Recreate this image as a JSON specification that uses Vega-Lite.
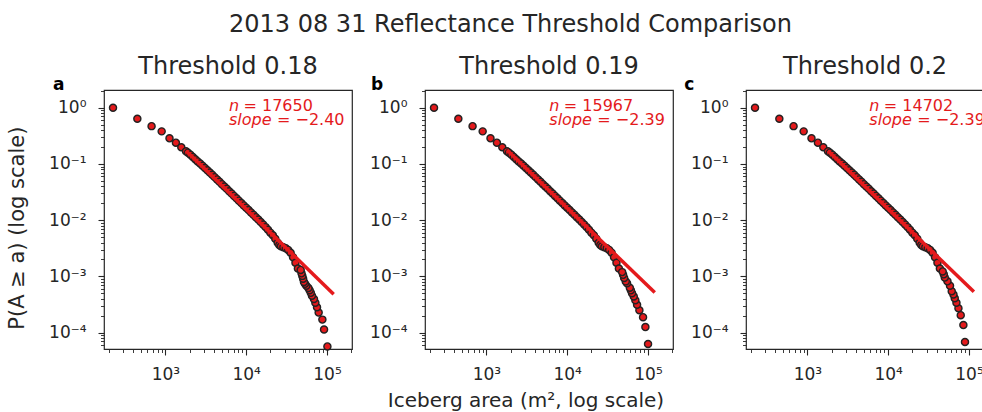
{
"$schema": "https://vega.github.io/schema/vega-lite/v6.json",
"background": "white",
"padding": {"left": 6, "top": 12, "right": 0, "bottom": 0},
"title": {"text": "2013 08 31 Reflectance Threshold Comparison", "fontSize": 24, "fontWeight": "normal", "color": "#262626", "anchor": "middle", "dx": 15, "offset": -1.5, "baseline": "alphabetic"},
"config": {
  "font": "DejaVu Sans",
  "view": {"stroke": "#262626", "strokeWidth": 1.2},
  "title": {"font": "DejaVu Sans", "fontSize": 24, "fontWeight": "normal", "color": "#262626", "baseline": "alphabetic", "offset": -3},
  "axis": {"labelFont": "DejaVu Sans", "labelFontSize": 17, "labelColor": "#262626", "tickColor": "#262626", "domain": false, "grid": false, "titleFont": "DejaVu Sans", "titleFontSize": 20, "titleFontWeight": "normal", "titleColor": "#262626"}
},
"bounds": "flush",
"spacing": 73,
"datasets": {
  "pts": [
    {"t":"a","area":225,"p":1},{"t":"a","area":450,"p":0.637},{"t":"a","area":675,"p":0.471},{"t":"a","area":900,"p":0.38},{"t":"a","area":1125,"p":0.286},{"t":"a","area":1350,"p":0.239},{"t":"a","area":1575,"p":0.198},
    {"t":"a","area":1800,"p":0.168},{"t":"a","area":1905,"p":0.1585},{"t":"a","area":2042,"p":0.1452},{"t":"a","area":2188,"p":0.1327},{"t":"a","area":2344,"p":0.1213},{"t":"a","area":2512,"p":0.1109},{"t":"a","area":2692,"p":0.1016},{"t":"a","area":2884,"p":0.0929},{"t":"a","area":3090,"p":0.0847},{"t":"a","area":3311,"p":0.0773},{"t":"a","area":3548,"p":0.0705},{"t":"a","area":3802,"p":0.0641},{"t":"a","area":4074,"p":0.0583},{"t":"a","area":4365,"p":0.0531},{"t":"a","area":4677,"p":0.0482},{"t":"a","area":5012,"p":0.04375},{"t":"a","area":5370,"p":0.0397},{"t":"a","area":5754,"p":0.03606},{"t":"a","area":6166,"p":0.03273},{"t":"a","area":6607,"p":0.02972},{"t":"a","area":7079,"p":0.02698},{"t":"a","area":7586,"p":0.02449},{"t":"a","area":8128,"p":0.02223},{"t":"a","area":8710,"p":0.02018},{"t":"a","area":9333,"p":0.01832},{"t":"a","area":10000,"p":0.01663},{"t":"a","area":10715,"p":0.0151},{"t":"a","area":11482,"p":0.01371},{"t":"a","area":12303,"p":0.01245},{"t":"a","area":13183,"p":0.0113},{"t":"a","area":14125,"p":0.01023},{"t":"a","area":15136,"p":0.00925},{"t":"a","area":16218,"p":0.00836},{"t":"a","area":17378,"p":0.00752},{"t":"a","area":18621,"p":0.00673},{"t":"a","area":19953,"p":0.006},{"t":"a","area":21380,"p":0.00537},{"t":"a","area":22909,"p":0.00468},{"t":"a","area":24547,"p":0.00398},{"t":"a","area":25704,"p":0.00363},{"t":"a","area":26915,"p":0.00343},{"t":"a","area":28840,"p":0.00331},{"t":"a","area":30903,"p":0.00316},{"t":"a","area":33113,"p":0.00295},{"t":"a","area":35481,"p":0.00263},{"t":"a","area":38019,"p":0.00219},{"t":"a","area":40738,"p":0.00174},{"t":"a","area":43652,"p":0.00138},
    {"t":"a","area":101200,"p":5.666e-5},{"t":"a","area":92000,"p":1.133e-4},{"t":"a","area":87700,"p":1.7e-4},{"t":"a","area":78900,"p":2.266e-4},{"t":"a","area":75300,"p":2.833e-4},{"t":"a","area":71800,"p":3.399e-4},{"t":"a","area":69000,"p":3.966e-4},{"t":"a","area":65200,"p":4.533e-4},{"t":"a","area":63100,"p":5.099e-4},{"t":"a","area":61000,"p":5.666e-4},{"t":"a","area":58900,"p":6.232e-4},{"t":"a","area":55600,"p":6.799e-4},{"t":"a","area":53500,"p":7.365e-4},{"t":"a","area":51900,"p":7.932e-4},{"t":"a","area":50700,"p":9.065e-4},{"t":"a","area":49550,"p":1.02e-3},{"t":"a","area":48400,"p":1.133e-3},{"t":"a","area":47300,"p":1.303e-3},
    {"t":"b","area":225,"p":1},{"t":"b","area":450,"p":0.637},{"t":"b","area":675,"p":0.471},{"t":"b","area":900,"p":0.38},{"t":"b","area":1125,"p":0.286},{"t":"b","area":1350,"p":0.239},{"t":"b","area":1575,"p":0.198},
    {"t":"b","area":1800,"p":0.168},{"t":"b","area":1905,"p":0.1585},{"t":"b","area":2042,"p":0.1452},{"t":"b","area":2188,"p":0.1327},{"t":"b","area":2344,"p":0.1213},{"t":"b","area":2512,"p":0.1109},{"t":"b","area":2692,"p":0.1016},{"t":"b","area":2884,"p":0.0929},{"t":"b","area":3090,"p":0.0847},{"t":"b","area":3311,"p":0.0773},{"t":"b","area":3548,"p":0.0705},{"t":"b","area":3802,"p":0.0641},{"t":"b","area":4074,"p":0.0583},{"t":"b","area":4365,"p":0.0531},{"t":"b","area":4677,"p":0.0482},{"t":"b","area":5012,"p":0.04375},{"t":"b","area":5370,"p":0.0397},{"t":"b","area":5754,"p":0.03606},{"t":"b","area":6166,"p":0.03273},{"t":"b","area":6607,"p":0.02972},{"t":"b","area":7079,"p":0.02698},{"t":"b","area":7586,"p":0.02449},{"t":"b","area":8128,"p":0.02223},{"t":"b","area":8710,"p":0.02018},{"t":"b","area":9333,"p":0.01832},{"t":"b","area":10000,"p":0.01663},{"t":"b","area":10715,"p":0.0151},{"t":"b","area":11482,"p":0.01371},{"t":"b","area":12303,"p":0.01245},{"t":"b","area":13183,"p":0.0113},{"t":"b","area":14125,"p":0.01023},{"t":"b","area":15136,"p":0.00925},{"t":"b","area":16218,"p":0.00836},{"t":"b","area":17378,"p":0.00752},{"t":"b","area":18621,"p":0.00673},{"t":"b","area":19953,"p":0.006},{"t":"b","area":21380,"p":0.00537},{"t":"b","area":22909,"p":0.00468},{"t":"b","area":24547,"p":0.00398},{"t":"b","area":25704,"p":0.00363},{"t":"b","area":26915,"p":0.00343},{"t":"b","area":28840,"p":0.00331},{"t":"b","area":30903,"p":0.00316},{"t":"b","area":33113,"p":0.00295},{"t":"b","area":35481,"p":0.00263},{"t":"b","area":38019,"p":0.00219},{"t":"b","area":40738,"p":0.00174},{"t":"b","area":43652,"p":0.00138},
    {"t":"b","area":100200,"p":6.263e-5},{"t":"b","area":92900,"p":1.2526e-4},{"t":"b","area":86900,"p":1.879e-4},{"t":"b","area":78300,"p":2.505e-4},{"t":"b","area":73300,"p":3.131e-4},{"t":"b","area":69800,"p":3.758e-4},{"t":"b","area":66700,"p":4.384e-4},{"t":"b","area":63500,"p":5.01e-4},{"t":"b","area":61400,"p":5.637e-4},{"t":"b","area":59600,"p":6.263e-4},{"t":"b","area":55100,"p":7.515e-4},{"t":"b","area":53100,"p":8.142e-4},{"t":"b","area":50700,"p":9.394e-4},{"t":"b","area":49200,"p":1.0647e-3},{"t":"b","area":47900,"p":1.19e-3},
    {"t":"c","area":225,"p":1},{"t":"c","area":450,"p":0.637},{"t":"c","area":675,"p":0.471},{"t":"c","area":900,"p":0.38},{"t":"c","area":1125,"p":0.286},{"t":"c","area":1350,"p":0.239},{"t":"c","area":1575,"p":0.198},
    {"t":"c","area":1800,"p":0.168},{"t":"c","area":1905,"p":0.1585},{"t":"c","area":2042,"p":0.1452},{"t":"c","area":2188,"p":0.1327},{"t":"c","area":2344,"p":0.1213},{"t":"c","area":2512,"p":0.1109},{"t":"c","area":2692,"p":0.1016},{"t":"c","area":2884,"p":0.0929},{"t":"c","area":3090,"p":0.0847},{"t":"c","area":3311,"p":0.0773},{"t":"c","area":3548,"p":0.0705},{"t":"c","area":3802,"p":0.0641},{"t":"c","area":4074,"p":0.0583},{"t":"c","area":4365,"p":0.0531},{"t":"c","area":4677,"p":0.0482},{"t":"c","area":5012,"p":0.04375},{"t":"c","area":5370,"p":0.0397},{"t":"c","area":5754,"p":0.03606},{"t":"c","area":6166,"p":0.03273},{"t":"c","area":6607,"p":0.02972},{"t":"c","area":7079,"p":0.02698},{"t":"c","area":7586,"p":0.02449},{"t":"c","area":8128,"p":0.02223},{"t":"c","area":8710,"p":0.02018},{"t":"c","area":9333,"p":0.01832},{"t":"c","area":10000,"p":0.01663},{"t":"c","area":10715,"p":0.0151},{"t":"c","area":11482,"p":0.01371},{"t":"c","area":12303,"p":0.01245},{"t":"c","area":13183,"p":0.0113},{"t":"c","area":14125,"p":0.01023},{"t":"c","area":15136,"p":0.00925},{"t":"c","area":16218,"p":0.00836},{"t":"c","area":17378,"p":0.00752},{"t":"c","area":18621,"p":0.00673},{"t":"c","area":19953,"p":0.006},{"t":"c","area":21380,"p":0.00537},{"t":"c","area":22909,"p":0.00468},{"t":"c","area":24547,"p":0.00398},{"t":"c","area":25704,"p":0.00363},{"t":"c","area":26915,"p":0.00343},{"t":"c","area":28840,"p":0.00331},{"t":"c","area":30903,"p":0.00316},{"t":"c","area":33113,"p":0.00295},{"t":"c","area":35481,"p":0.00263},{"t":"c","area":38019,"p":0.00219},{"t":"c","area":40738,"p":0.00174},{"t":"c","area":43652,"p":0.00138},
    {"t":"c","area":89300,"p":6.802e-5},{"t":"c","area":85300,"p":1.3604e-4},{"t":"c","area":79100,"p":2.0406e-4},{"t":"c","area":74100,"p":2.7207e-4},{"t":"c","area":70000,"p":3.4009e-4},{"t":"c","area":66700,"p":4.0811e-4},{"t":"c","area":64300,"p":4.7613e-4},{"t":"c","area":61200,"p":5.4414e-4},{"t":"c","area":58300,"p":6.8018e-4},{"t":"c","area":54200,"p":8.1622e-4},{"t":"c","area":50200,"p":9.5225e-4},{"t":"c","area":48800,"p":1.0883e-3},{"t":"c","area":47300,"p":1.2243e-3}
  ],
  "fit": [
    {"t":"a","area":1800,"p":0.172},{"t":"a","area":121000,"p":4.82e-4},
    {"t":"b","area":1800,"p":0.178},{"t":"b","area":121300,"p":5.15e-4},
    {"t":"c","area":1800,"p":0.1714},{"t":"c","area":115100,"p":5.3e-4}
  ],
  "ann": [
    {"t":"a","letter":"a","nv":"= 17650","sv":"= −2.40","ytitle":"P(A ≥ a) (log scale)"},
    {"t":"b","letter":"b","nv":"= 15967","sv":"= −2.39","ytitle":""},
    {"t":"c","letter":"c","nv":"= 14702","sv":"= −2.39","ytitle":""}
  ]
},
"hconcat": [
  {
    "width": 248, "height": 259,
    "title": {"text": "Threshold 0.18"},
    "layer": [
      {"data": {"name": "pts"}, "transform": [{"filter": "datum.t == 'a'"}],
       "mark": {"type": "circle", "size": 50, "fill": "#e41a1c", "stroke": "#222222", "strokeWidth": 1.4, "opacity": 1},
       "encoding": {
         "x": {"field": "area", "type": "quantitative", "scale": {"type": "log", "domain": [174, 204000], "nice": false},
               "axis": {"orient": "bottom", "values": [1000, 10000, 100000], "labelExpr": "datum.value == 1000 ? '10³' : datum.value == 10000 ? '10⁴' : '10⁵'", "tickSize": 6, "tickWidth": 1.1, "labelPadding": 11, "title": null}},
         "y": {"field": "p", "type": "quantitative", "scale": {"type": "log", "domain": [5.1e-5, 2.07], "nice": false},
               "axis": {"orient": "left", "values": [0.0001, 0.001, 0.01, 0.1, 1], "labelExpr": "datum.value >= 0.5 ? '10⁰' : datum.value >= 0.05 ? '10⁻¹' : datum.value >= 0.005 ? '10⁻²' : datum.value >= 0.0005 ? '10⁻³' : '10⁻⁴'", "labelAlign": "right", "tickSize": 6, "tickWidth": 1.1, "labelPadding": 12, "title": null}}
       }},
      {"data": {"name": "fit"}, "transform": [{"filter": "datum.t == 'a'"}],
       "mark": {"type": "line", "color": "#e41a1c", "strokeWidth": 3.5},
       "encoding": {
         "x": {"field": "area", "type": "quantitative", "scale": {"type": "log", "domain": [174, 204000], "nice": false},
               "axis": {"orient": "bottom", "values": [200, 300, 400, 500, 600, 700, 800, 900, 2000, 3000, 4000, 5000, 6000, 7000, 8000, 9000, 20000, 30000, 40000, 50000, 60000, 70000, 80000, 90000, 200000], "labels": false, "tickSize": 3.5, "tickWidth": 0.9, "title": null}},
         "y": {"field": "p", "type": "quantitative", "scale": {"type": "log", "domain": [5.1e-5, 2.07], "nice": false},
               "axis": {"orient": "left", "values": [0.00006, 0.00007, 0.00008, 0.00009, 0.0002, 0.0003, 0.0004, 0.0005, 0.0006, 0.0007, 0.0008, 0.0009, 0.002, 0.003, 0.004, 0.005, 0.006, 0.007, 0.008, 0.009, 0.02, 0.03, 0.04, 0.05, 0.06, 0.07, 0.08, 0.09, 0.2, 0.3, 0.4, 0.5, 0.6, 0.7, 0.8, 0.9, 2], "labels": false, "tickSize": 3.5, "tickWidth": 0.9, "title": null}}
       }},
      {"data": {"name": "ann"}, "transform": [{"filter": "datum.t == 'a'"}],
       "mark": {"type": "text", "fontSize": 21, "angle": 270, "align": "center", "baseline": "middle", "color": "#262626"},
       "encoding": {"x": {"datum": 15.0, "type": "quantitative", "axis": null}, "y": {"datum": 0.0072, "type": "quantitative", "axis": null}, "text": {"field": "ytitle", "type": "nominal"}}},
      {"data": {"name": "ann"}, "transform": [{"filter": "datum.t == 'a'"}],
       "mark": {"type": "text", "fontSize": 17, "fontWeight": "bold", "align": "left", "baseline": "alphabetic", "color": "#000000"},
       "encoding": {"x": {"datum": 40.7, "type": "quantitative", "axis": null}, "y": {"datum": 2.07, "type": "quantitative", "axis": null}, "text": {"field": "letter", "type": "nominal"}}},
      {"data": {"name": "ann"}, "transform": [{"filter": "datum.t == 'a'"}],
       "mark": {"type": "text", "text": "n", "fontSize": 16, "fontStyle": "italic", "align": "left", "baseline": "alphabetic", "color": "#e41a1c"},
       "encoding": {"x": {"datum": 6130, "type": "quantitative", "axis": null}, "y": {"datum": 0.86, "type": "quantitative", "axis": null}}},
      {"data": {"name": "ann"}, "transform": [{"filter": "datum.t == 'a'"}],
       "mark": {"type": "text", "dx": 14.5, "fontSize": 16, "align": "left", "baseline": "alphabetic", "color": "#e41a1c"},
       "encoding": {"x": {"datum": 6130, "type": "quantitative", "axis": null}, "y": {"datum": 0.86, "type": "quantitative", "axis": null}, "text": {"field": "nv", "type": "nominal"}}},
      {"data": {"name": "ann"}, "transform": [{"filter": "datum.t == 'a'"}],
       "mark": {"type": "text", "text": "slope", "fontSize": 16, "fontStyle": "italic", "align": "left", "baseline": "alphabetic", "color": "#e41a1c"},
       "encoding": {"x": {"datum": 6130, "type": "quantitative", "axis": null}, "y": {"datum": 0.5, "type": "quantitative", "axis": null}}},
      {"data": {"name": "ann"}, "transform": [{"filter": "datum.t == 'a'"}],
       "mark": {"type": "text", "dx": 48, "fontSize": 16, "align": "left", "baseline": "alphabetic", "color": "#e41a1c"},
       "encoding": {"x": {"datum": 6130, "type": "quantitative", "axis": null}, "y": {"datum": 0.5, "type": "quantitative", "axis": null}, "text": {"field": "sv", "type": "nominal"}}}
    ],
    "resolve": {"axis": {"x": "independent", "y": "independent"}}
  },
  {
    "width": 248, "height": 259,
    "title": {"text": "Threshold 0.19"},
    "layer": [
      {"data": {"name": "pts"}, "transform": [{"filter": "datum.t == 'b'"}],
       "mark": {"type": "circle", "size": 50, "fill": "#e41a1c", "stroke": "#222222", "strokeWidth": 1.4, "opacity": 1},
       "encoding": {
         "x": {"field": "area", "type": "quantitative", "scale": {"type": "log", "domain": [174, 204000], "nice": false},
               "axis": {"orient": "bottom", "values": [1000, 10000, 100000], "labelExpr": "datum.value == 1000 ? '10³' : datum.value == 10000 ? '10⁴' : '10⁵'", "tickSize": 6, "tickWidth": 1.1, "labelPadding": 11, "title": "Iceberg area (m², log scale)", "titleX": 100.5, "titlePadding": 8}},
         "y": {"field": "p", "type": "quantitative", "scale": {"type": "log", "domain": [5.1e-5, 2.07], "nice": false},
               "axis": {"orient": "left", "values": [0.0001, 0.001, 0.01, 0.1, 1], "labelExpr": "datum.value >= 0.5 ? '10⁰' : datum.value >= 0.05 ? '10⁻¹' : datum.value >= 0.005 ? '10⁻²' : datum.value >= 0.0005 ? '10⁻³' : '10⁻⁴'", "labelAlign": "right", "tickSize": 6, "tickWidth": 1.1, "labelPadding": 12, "title": null}}
       }},
      {"data": {"name": "fit"}, "transform": [{"filter": "datum.t == 'b'"}],
       "mark": {"type": "line", "color": "#e41a1c", "strokeWidth": 3.5},
       "encoding": {
         "x": {"field": "area", "type": "quantitative", "scale": {"type": "log", "domain": [174, 204000], "nice": false},
               "axis": {"orient": "bottom", "values": [200, 300, 400, 500, 600, 700, 800, 900, 2000, 3000, 4000, 5000, 6000, 7000, 8000, 9000, 20000, 30000, 40000, 50000, 60000, 70000, 80000, 90000, 200000], "labels": false, "tickSize": 3.5, "tickWidth": 0.9, "title": null}},
         "y": {"field": "p", "type": "quantitative", "scale": {"type": "log", "domain": [5.1e-5, 2.07], "nice": false},
               "axis": {"orient": "left", "values": [0.00006, 0.00007, 0.00008, 0.00009, 0.0002, 0.0003, 0.0004, 0.0005, 0.0006, 0.0007, 0.0008, 0.0009, 0.002, 0.003, 0.004, 0.005, 0.006, 0.007, 0.008, 0.009, 0.02, 0.03, 0.04, 0.05, 0.06, 0.07, 0.08, 0.09, 0.2, 0.3, 0.4, 0.5, 0.6, 0.7, 0.8, 0.9, 2], "labels": false, "tickSize": 3.5, "tickWidth": 0.9, "title": null}}
       }},
      {"data": {"name": "ann"}, "transform": [{"filter": "datum.t == 'b'"}],
       "mark": {"type": "text", "fontSize": 17, "fontWeight": "bold", "align": "left", "baseline": "alphabetic", "color": "#000000"},
       "encoding": {"x": {"datum": 37.4, "type": "quantitative", "axis": null}, "y": {"datum": 2.07, "type": "quantitative", "axis": null}, "text": {"field": "letter", "type": "nominal"}}},
      {"data": {"name": "ann"}, "transform": [{"filter": "datum.t == 'b'"}],
       "mark": {"type": "text", "text": "n", "fontSize": 16, "fontStyle": "italic", "align": "left", "baseline": "alphabetic", "color": "#e41a1c"},
       "encoding": {"x": {"datum": 6010, "type": "quantitative", "axis": null}, "y": {"datum": 0.86, "type": "quantitative", "axis": null}}},
      {"data": {"name": "ann"}, "transform": [{"filter": "datum.t == 'b'"}],
       "mark": {"type": "text", "dx": 14.5, "fontSize": 16, "align": "left", "baseline": "alphabetic", "color": "#e41a1c"},
       "encoding": {"x": {"datum": 6010, "type": "quantitative", "axis": null}, "y": {"datum": 0.86, "type": "quantitative", "axis": null}, "text": {"field": "nv", "type": "nominal"}}},
      {"data": {"name": "ann"}, "transform": [{"filter": "datum.t == 'b'"}],
       "mark": {"type": "text", "text": "slope", "fontSize": 16, "fontStyle": "italic", "align": "left", "baseline": "alphabetic", "color": "#e41a1c"},
       "encoding": {"x": {"datum": 6010, "type": "quantitative", "axis": null}, "y": {"datum": 0.5, "type": "quantitative", "axis": null}}},
      {"data": {"name": "ann"}, "transform": [{"filter": "datum.t == 'b'"}],
       "mark": {"type": "text", "dx": 48, "fontSize": 16, "align": "left", "baseline": "alphabetic", "color": "#e41a1c"},
       "encoding": {"x": {"datum": 6010, "type": "quantitative", "axis": null}, "y": {"datum": 0.5, "type": "quantitative", "axis": null}, "text": {"field": "sv", "type": "nominal"}}}
    ],
    "resolve": {"axis": {"x": "independent", "y": "independent"}}
  },
  {
    "width": 238, "height": 259,
    "title": {"text": "Threshold 0.2"},
    "layer": [
      {"data": {"name": "pts"}, "transform": [{"filter": "datum.t == 'c'"}],
       "mark": {"type": "circle", "size": 50, "fill": "#e41a1c", "stroke": "#222222", "strokeWidth": 1.4, "opacity": 1},
       "encoding": {
         "x": {"field": "area", "type": "quantitative", "scale": {"type": "log", "domain": [174, 153500], "nice": false},
               "axis": {"orient": "bottom", "values": [1000, 10000, 100000], "labelExpr": "datum.value == 1000 ? '10³' : datum.value == 10000 ? '10⁴' : '10⁵'", "tickSize": 6, "tickWidth": 1.1, "labelPadding": 11, "title": null}},
         "y": {"field": "p", "type": "quantitative", "scale": {"type": "log", "domain": [5.1e-5, 2.07], "nice": false},
               "axis": {"orient": "left", "values": [0.0001, 0.001, 0.01, 0.1, 1], "labelExpr": "datum.value >= 0.5 ? '10⁰' : datum.value >= 0.05 ? '10⁻¹' : datum.value >= 0.005 ? '10⁻²' : datum.value >= 0.0005 ? '10⁻³' : '10⁻⁴'", "labelAlign": "right", "tickSize": 6, "tickWidth": 1.1, "labelPadding": 12, "title": null}}
       }},
      {"data": {"name": "fit"}, "transform": [{"filter": "datum.t == 'c'"}],
       "mark": {"type": "line", "color": "#e41a1c", "strokeWidth": 3.5},
       "encoding": {
         "x": {"field": "area", "type": "quantitative", "scale": {"type": "log", "domain": [174, 153500], "nice": false},
               "axis": {"orient": "bottom", "values": [200, 300, 400, 500, 600, 700, 800, 900, 2000, 3000, 4000, 5000, 6000, 7000, 8000, 9000, 20000, 30000, 40000, 50000, 60000, 70000, 80000, 90000], "labels": false, "tickSize": 3.5, "tickWidth": 0.9, "title": null}},
         "y": {"field": "p", "type": "quantitative", "scale": {"type": "log", "domain": [5.1e-5, 2.07], "nice": false},
               "axis": {"orient": "left", "values": [0.00006, 0.00007, 0.00008, 0.00009, 0.0002, 0.0003, 0.0004, 0.0005, 0.0006, 0.0007, 0.0008, 0.0009, 0.002, 0.003, 0.004, 0.005, 0.006, 0.007, 0.008, 0.009, 0.02, 0.03, 0.04, 0.05, 0.06, 0.07, 0.08, 0.09, 0.2, 0.3, 0.4, 0.5, 0.6, 0.7, 0.8, 0.9, 2], "labels": false, "tickSize": 3.5, "tickWidth": 0.9, "title": null}}
       }},
      {"data": {"name": "ann"}, "transform": [{"filter": "datum.t == 'c'"}],
       "mark": {"type": "text", "fontSize": 17, "fontWeight": "bold", "align": "left", "baseline": "alphabetic", "color": "#000000"},
       "encoding": {"x": {"datum": 30.0, "type": "quantitative", "axis": null}, "y": {"datum": 2.07, "type": "quantitative", "axis": null}, "text": {"field": "letter", "type": "nominal"}}},
      {"data": {"name": "ann"}, "transform": [{"filter": "datum.t == 'c'"}],
       "mark": {"type": "text", "text": "n", "fontSize": 16, "fontStyle": "italic", "align": "left", "baseline": "alphabetic", "color": "#e41a1c", "clip": true},
       "encoding": {"x": {"datum": 5840, "type": "quantitative", "axis": null}, "y": {"datum": 0.86, "type": "quantitative", "axis": null}}},
      {"data": {"name": "ann"}, "transform": [{"filter": "datum.t == 'c'"}],
       "mark": {"type": "text", "dx": 14.5, "fontSize": 16, "align": "left", "baseline": "alphabetic", "color": "#e41a1c", "clip": true},
       "encoding": {"x": {"datum": 5840, "type": "quantitative", "axis": null}, "y": {"datum": 0.86, "type": "quantitative", "axis": null}, "text": {"field": "nv", "type": "nominal"}}},
      {"data": {"name": "ann"}, "transform": [{"filter": "datum.t == 'c'"}],
       "mark": {"type": "text", "text": "slope", "fontSize": 16, "fontStyle": "italic", "align": "left", "baseline": "alphabetic", "color": "#e41a1c", "clip": true},
       "encoding": {"x": {"datum": 5840, "type": "quantitative", "axis": null}, "y": {"datum": 0.5, "type": "quantitative", "axis": null}}},
      {"data": {"name": "ann"}, "transform": [{"filter": "datum.t == 'c'"}],
       "mark": {"type": "text", "dx": 48, "fontSize": 16, "align": "left", "baseline": "alphabetic", "color": "#e41a1c", "clip": true},
       "encoding": {"x": {"datum": 5840, "type": "quantitative", "axis": null}, "y": {"datum": 0.5, "type": "quantitative", "axis": null}, "text": {"field": "sv", "type": "nominal"}}}
    ],
    "resolve": {"axis": {"x": "independent", "y": "independent"}}
  }
]
}
